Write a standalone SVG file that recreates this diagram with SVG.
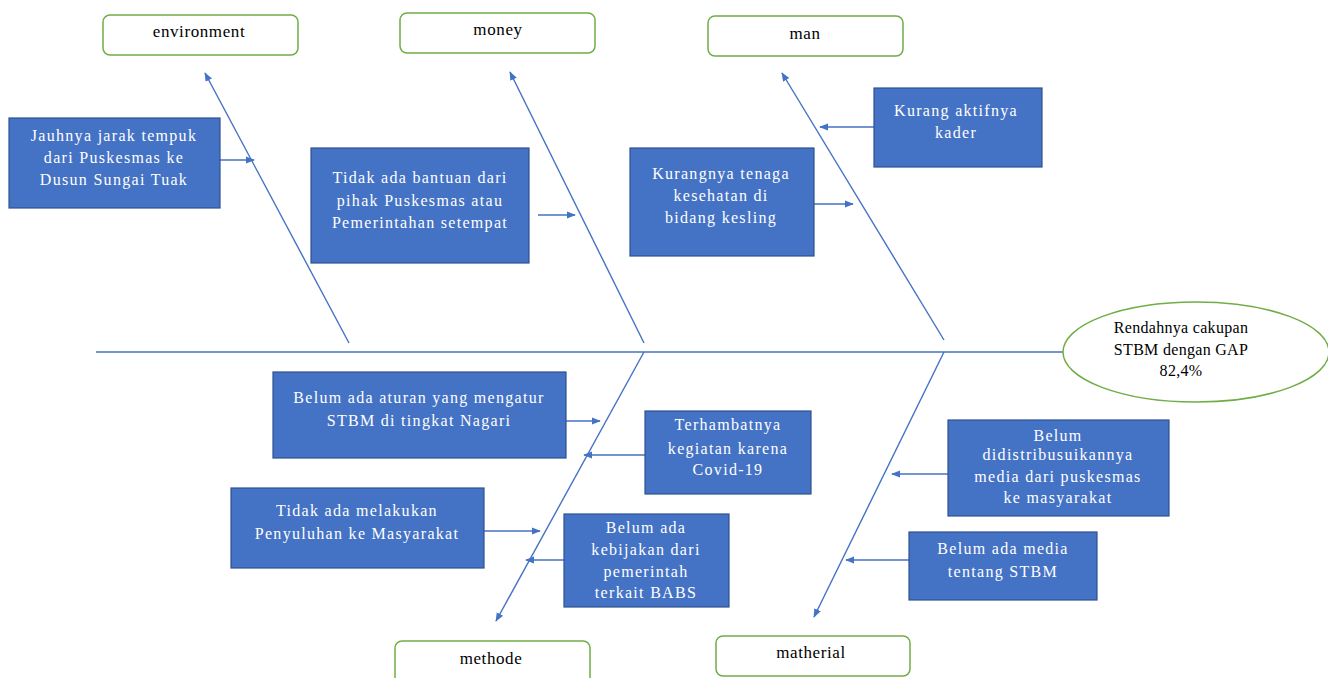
<svg xmlns="http://www.w3.org/2000/svg" width="1328" height="678" viewBox="0 0 1328 678">
<style>
.cat{fill:#fff;stroke:#70AD47;stroke-width:1.5}
.cause{fill:#4472C4;stroke:#2F528F;stroke-width:1.2}
.ln{stroke:#4472C4;stroke-width:1.4;fill:none}
.arr{stroke:#4472C4;stroke-width:1.4;fill:none;marker-end:url(#ah)}
.ct{font-family:"Liberation Serif","DejaVu Serif",serif;font-size:17px;fill:#000;text-anchor:middle;letter-spacing:0.6px}
.et{font-family:"Liberation Serif","DejaVu Serif",serif;font-size:16px;fill:#000;text-anchor:middle;letter-spacing:0.3px}
.wt{font-family:"Liberation Serif","DejaVu Serif",serif;font-size:16px;fill:#fff;text-anchor:middle;letter-spacing:1.3px}
</style>
<defs>
<marker id="ah" viewBox="0 0 10 10" refX="9" refY="5" markerWidth="9" markerHeight="9" orient="auto" markerUnits="userSpaceOnUse">
<path d="M0,1 L10,5 L0,9 z" fill="#4472C4"/>
</marker>
</defs>
<rect width="1328" height="678" fill="#fff"/>
<g id="connectors">
<line class="ln" x1="96" y1="352" x2="1065" y2="352"/>
<line class="arr" x1="349" y1="343" x2="205" y2="73"/>
<line class="arr" x1="644" y1="343" x2="510" y2="72"/>
<line class="arr" x1="944" y1="340" x2="782" y2="73"/>
<line class="arr" x1="644" y1="352" x2="496" y2="621"/>
<line class="arr" x1="944" y1="352" x2="814" y2="617"/>
<line class="arr" x1="220" y1="160" x2="254" y2="160"/>
<line class="arr" x1="538" y1="215" x2="575" y2="215"/>
<line class="arr" x1="814" y1="204" x2="853" y2="204"/>
<line class="arr" x1="874" y1="127" x2="820" y2="127"/>
<line class="arr" x1="566" y1="421" x2="600" y2="421"/>
<line class="arr" x1="645" y1="455" x2="584" y2="455"/>
<line class="arr" x1="484" y1="531" x2="540" y2="531"/>
<line class="arr" x1="564" y1="560" x2="526" y2="560"/>
<line class="arr" x1="948" y1="474" x2="892" y2="474"/>
<line class="arr" x1="909" y1="560" x2="846" y2="560"/>
</g>
<g id="effect">
<ellipse cx="1196" cy="352" rx="133" ry="50" fill="#fff" stroke="#70AD47" stroke-width="1.5"/>
<text class="et" x="1181" y="333">Rendahnya cakupan</text>
<text class="et" x="1181" y="355">STBM dengan GAP</text>
<text class="et" x="1181" y="376">82,4%</text>
</g>
<g id="cat-environment"><rect class="cat" x="103" y="15" width="195" height="40" rx="7"/><text class="ct" x="199" y="37">environment</text></g>
<g id="cat-money"><rect class="cat" x="400" y="13" width="195" height="40" rx="7"/><text class="ct" x="498" y="35">money</text></g>
<g id="cat-man"><rect class="cat" x="708" y="16" width="195" height="40" rx="7"/><text class="ct" x="805" y="39">man</text></g>
<g id="cat-methode"><rect class="cat" x="395" y="641" width="195" height="45" rx="7"/><text class="ct" x="491" y="664">methode</text></g>
<g id="cat-matherial"><rect class="cat" x="716" y="636" width="194" height="40" rx="7"/><text class="ct" x="811" y="658">matherial</text></g>
<g id="c1"><rect class="cause" x="9" y="118" width="211" height="90"/><text class="wt" x="114" y="141">Jauhnya jarak tempuk</text><text class="wt" x="114" y="163">dari Puskesmas ke</text><text class="wt" x="114" y="185">Dusun Sungai Tuak</text></g>
<g id="c2"><rect class="cause" x="311" y="148" width="218" height="115"/><text class="wt" x="420" y="183">Tidak ada bantuan dari</text><text class="wt" x="420" y="206">pihak Puskesmas atau</text><text class="wt" x="420" y="228">Pemerintahan setempat</text></g>
<g id="c3"><rect class="cause" x="630" y="148" width="184" height="108"/><text class="wt" x="721" y="179">Kurangnya tenaga</text><text class="wt" x="721" y="201">kesehatan di</text><text class="wt" x="721" y="223">bidang kesling</text></g>
<g id="c4"><rect class="cause" x="874" y="88" width="168" height="79"/><text class="wt" x="956" y="116">Kurang aktifnya</text><text class="wt" x="956" y="138">kader</text></g>
<g id="c5"><rect class="cause" x="273" y="372" width="293" height="86"/><text class="wt" x="419" y="403">Belum ada aturan yang mengatur</text><text class="wt" x="419" y="426">STBM di tingkat Nagari</text></g>
<g id="c6"><rect class="cause" x="645" y="411" width="166" height="83"/><text class="wt" x="728" y="430">Terhambatnya</text><text class="wt" x="728" y="454">kegiatan karena</text><text class="wt" x="728" y="475">Covid-19</text></g>
<g id="c7"><rect class="cause" x="231" y="488" width="253" height="80"/><text class="wt" x="357" y="516">Tidak ada melakukan</text><text class="wt" x="357" y="539">Penyuluhan ke Masyarakat</text></g>
<g id="c8"><rect class="cause" x="564" y="514" width="165" height="93"/><text class="wt" x="646" y="533">Belum ada</text><text class="wt" x="646" y="555">kebijakan dari</text><text class="wt" x="646" y="577">pemerintah</text><text class="wt" x="646" y="598">terkait BABS</text></g>
<g id="c9"><rect class="cause" x="948" y="420" width="221" height="96"/><text class="wt" x="1058" y="441">Belum</text><text class="wt" x="1058" y="460">didistribusuikannya</text><text class="wt" x="1058" y="482">media dari puskesmas</text><text class="wt" x="1058" y="503">ke masyarakat</text></g>
<g id="c10"><rect class="cause" x="909" y="532" width="188" height="68"/><text class="wt" x="1003" y="554">Belum ada media</text><text class="wt" x="1003" y="577">tentang STBM</text></g>
</svg>
